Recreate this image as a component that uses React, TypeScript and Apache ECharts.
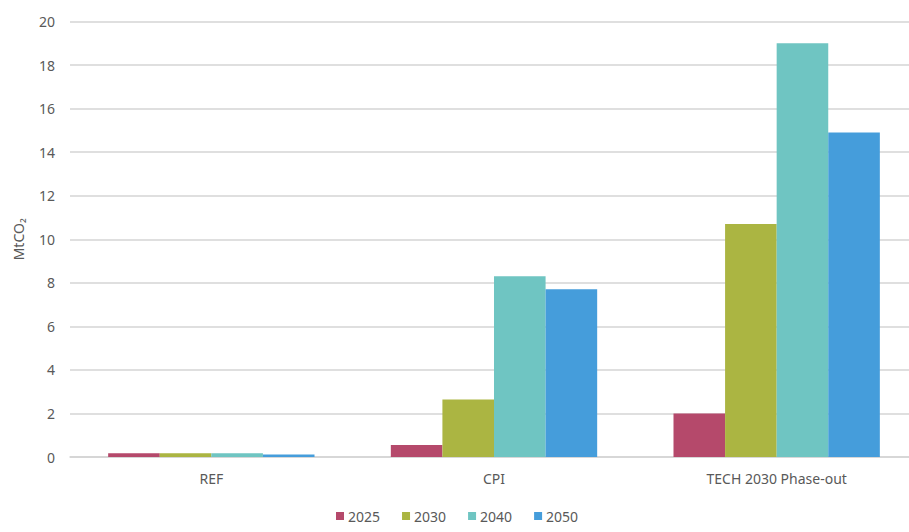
import React, { useEffect, useRef } from "react";
import * as echarts from "echarts";

// Scenario categories and per-year emissions (MtCO2)
const categories = ["REF", "CPI", "TECH 2030 Phase-out"];
const years = ["2025", "2030", "2040", "2050"];
const values2025 = [0.17, 0.55, 2.0];
const values2030 = [0.17, 2.64, 10.7];
const values2040 = [0.17, 8.3, 19.0];
const values2050 = [0.12, 7.7, 14.9];
const yearColors = ["#B5496B", "#ABB542", "#6FC5C2", "#459DDB"];

const seriesValues = [values2025, values2030, values2040, values2050];

const FONT = "'Noto Sans', 'DejaVu Sans', sans-serif";
const TEXT = "#595959";

export default function App() {
  const ref = useRef<HTMLDivElement>(null);

  useEffect(() => {
    if (!ref.current) return;
    const chart = echarts.init(ref.current, undefined, { renderer: "svg" });
    chart.setOption({
      animation: false,
      backgroundColor: "#ffffff",
      textStyle: { fontFamily: FONT },
      // plot area runs past the visible right edge
      grid: { left: 70, top: 21.5, width: 848, height: 435.5, containLabel: false },
      legend: {
        data: years,
        top: 509,
        left: 336,
        padding: 0,
        icon: "rect",
        itemWidth: 8,
        itemHeight: 8,
        itemGap: 22,
        textStyle: { color: TEXT, fontSize: 14, fontFamily: FONT, padding: [0, 0, 0, -1] },
      },
      xAxis: {
        type: "category",
        data: categories,
        axisLine: { show: true, lineStyle: { color: "#d4d4d4", width: 1.5 } },
        axisTick: { show: false },
        axisLabel: { color: TEXT, fontSize: 14, margin: 14, fontFamily: FONT },
      },
      yAxis: {
        type: "value",
        min: 0,
        max: 20,
        interval: 2,
        name: "MtCO₂",
        nameLocation: "middle",
        nameGap: 45,
        nameRotate: 90,
        nameTextStyle: { color: TEXT, fontSize: 14, fontFamily: FONT },
        axisLine: { show: false },
        axisTick: { show: false },
        axisLabel: { color: TEXT, fontSize: 14, margin: 15, fontFamily: FONT },
        splitLine: { lineStyle: { color: "#d4d4d4", width: 1.5 } },
      },
      series: years.map((y, i) => ({
        name: y,
        type: "bar",
        data: seriesValues[i],
        barGap: "0%",
        barCategoryGap: "27%",
        itemStyle: { color: yearColors[i] },
      })),
    });
    return () => chart.dispose();
  }, []);

  return (
    <div
      style={{
        position: "absolute",
        left: 0,
        top: 0,
        width: 909,
        height: 532,
        overflow: "hidden",
      }}
    >
      <div ref={ref} style={{ width: 930, height: 532 }} />
    </div>
  );
}
